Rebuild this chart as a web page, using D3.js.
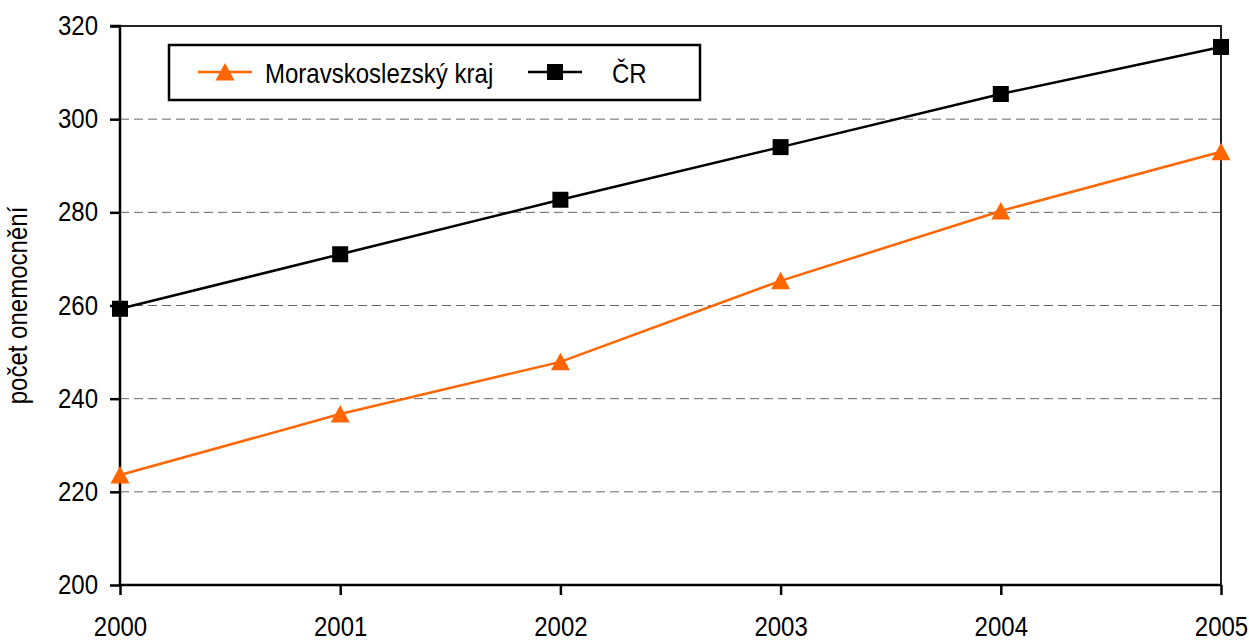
<!DOCTYPE html>
<html lang="cs">
<head>
<meta charset="UTF-8">
<script src="https://d3js.org/d3.v7.min.js"></script>
<style>
  body { margin: 0; background: #fff; }
  text { font-family: "Liberation Sans", Arial, sans-serif; fill: #000; }
</style>
</head>
<body>
<script>
  // data
  const years = [2000, 2001, 2002, 2003, 2004, 2005];
  const msk = [223.6, 236.7, 247.9, 265.3, 280.3, 293.0];
  const cr = [259.3, 271.0, 282.7, 294.0, 305.4, 315.5];
  const yTicks = [200, 220, 240, 260, 280, 300, 320];

  const width = 1249, height = 641;
  const margin = { top: 26, right: 28, bottom: 56, left: 120 };
  const S = 0.89; // horizontal squeeze to mimic a narrow font

  const svg = d3.select("body").append("svg")
    .attr("width", width)
    .attr("height", height);

  const x = d3.scaleLinear()
    .domain([2000, 2005])
    .range([margin.left, width - margin.right]);

  const y = d3.scaleLinear()
    .domain([200, 320])
    .range([height - margin.bottom, margin.top]);

  function narrow(sel) {
    sel.each(function () {
      const t = d3.select(this);
      const x0 = +t.attr("x") || 0;
      t.attr("x", x0 / S)
        .attr("transform", (t.attr("transform") || "") + ` scale(${S},1)`);
    });
  }

  // gridlines
  svg.append("g")
    .selectAll("line")
    .data(yTicks.slice(1, -1))
    .join("line")
    .attr("x1", margin.left)
    .attr("x2", width - margin.right)
    .attr("y1", d => y(d))
    .attr("y2", d => y(d))
    .attr("stroke", "#666")
    .attr("stroke-width", 1)
    .attr("stroke-dasharray", "9,5");

  // top and right frame
  svg.append("path")
    .attr("d", `M${margin.left},${y(320)}H${x(2005)}V${y(200)}`)
    .attr("fill", "none")
    .attr("stroke", "#222")
    .attr("stroke-width", 2);

  // axes
  const yAxis = svg.append("g")
    .attr("transform", `translate(${margin.left},0)`)
    .call(d3.axisLeft(y).tickValues(yTicks).tickSize(10).tickPadding(12));

  const xAxis = svg.append("g")
    .attr("transform", `translate(0,${y(200)})`)
    .call(d3.axisBottom(x).tickValues(years).tickFormat(d3.format("d")).tickSize(10).tickPadding(22));

  [yAxis, xAxis].forEach(g => {
    g.attr("font-family", null).attr("font-size", null);
    g.select(".domain").attr("stroke", "#000").attr("stroke-width", 2.5);
    g.selectAll(".tick line").attr("stroke", "#000").attr("stroke-width", 2.5);
    g.selectAll(".tick text").attr("font-size", 27).call(narrow);
  });
  yAxis.select(".domain").attr("d", `M-10,${y(320)}H0V${y(200)}`);
  xAxis.select(".domain").attr("d", `M${x(2000)},0H${x(2005)}`);

  // axis title
  svg.append("text")
    .attr("transform", `translate(27,${(y(200) + y(320)) / 2}) rotate(-90)`)
    .attr("text-anchor", "middle")
    .attr("font-size", 27)
    .text("počet onemocnění")
    .call(narrow);

  const line = d3.line()
    .x((d, i) => x(years[i]))
    .y(d => y(d));

  // ČR series
  svg.append("path")
    .datum(cr)
    .attr("d", line)
    .attr("fill", "none")
    .attr("stroke", "#000")
    .attr("stroke-width", 2.5);

  svg.append("g")
    .selectAll("rect")
    .data(cr)
    .join("rect")
    .attr("x", (d, i) => x(years[i]) - 8)
    .attr("y", d => y(d) - 8)
    .attr("width", 16)
    .attr("height", 16)
    .attr("fill", "#000");

  // Moravskoslezský kraj series
  const orange = "#ff6600";
  const tri = "M0,-9L9.5,8.5L-9.5,8.5Z";

  svg.append("path")
    .datum(msk)
    .attr("d", line)
    .attr("fill", "none")
    .attr("stroke", orange)
    .attr("stroke-width", 2.5);

  svg.append("g")
    .selectAll("path")
    .data(msk)
    .join("path")
    .attr("d", tri)
    .attr("transform", (d, i) => `translate(${x(years[i])},${y(d)})`)
    .attr("fill", orange);

  // legend
  const legend = svg.append("g");
  legend.append("rect")
    .attr("x", 169).attr("y", 45)
    .attr("width", 531).attr("height", 55)
    .attr("fill", "#fff")
    .attr("stroke", "#000")
    .attr("stroke-width", 2.5);

  legend.append("line")
    .attr("x1", 198).attr("x2", 252).attr("y1", 72).attr("y2", 72)
    .attr("stroke", orange).attr("stroke-width", 2.5);
  legend.append("path")
    .attr("d", tri)
    .attr("transform", "translate(225,72)")
    .attr("fill", orange);
  legend.append("text")
    .attr("transform", "translate(265,83)")
    .attr("font-size", 27)
    .text("Moravskoslezský kraj")
    .call(narrow);

  legend.append("line")
    .attr("x1", 528).attr("x2", 582).attr("y1", 72).attr("y2", 72)
    .attr("stroke", "#000").attr("stroke-width", 2.5);
  legend.append("rect")
    .attr("x", 547).attr("y", 64).attr("width", 16).attr("height", 16)
    .attr("fill", "#000");
  legend.append("text")
    .attr("transform", "translate(612,83)")
    .attr("font-size", 27)
    .text("ČR")
    .call(narrow);
</script>
</body>
</html>
